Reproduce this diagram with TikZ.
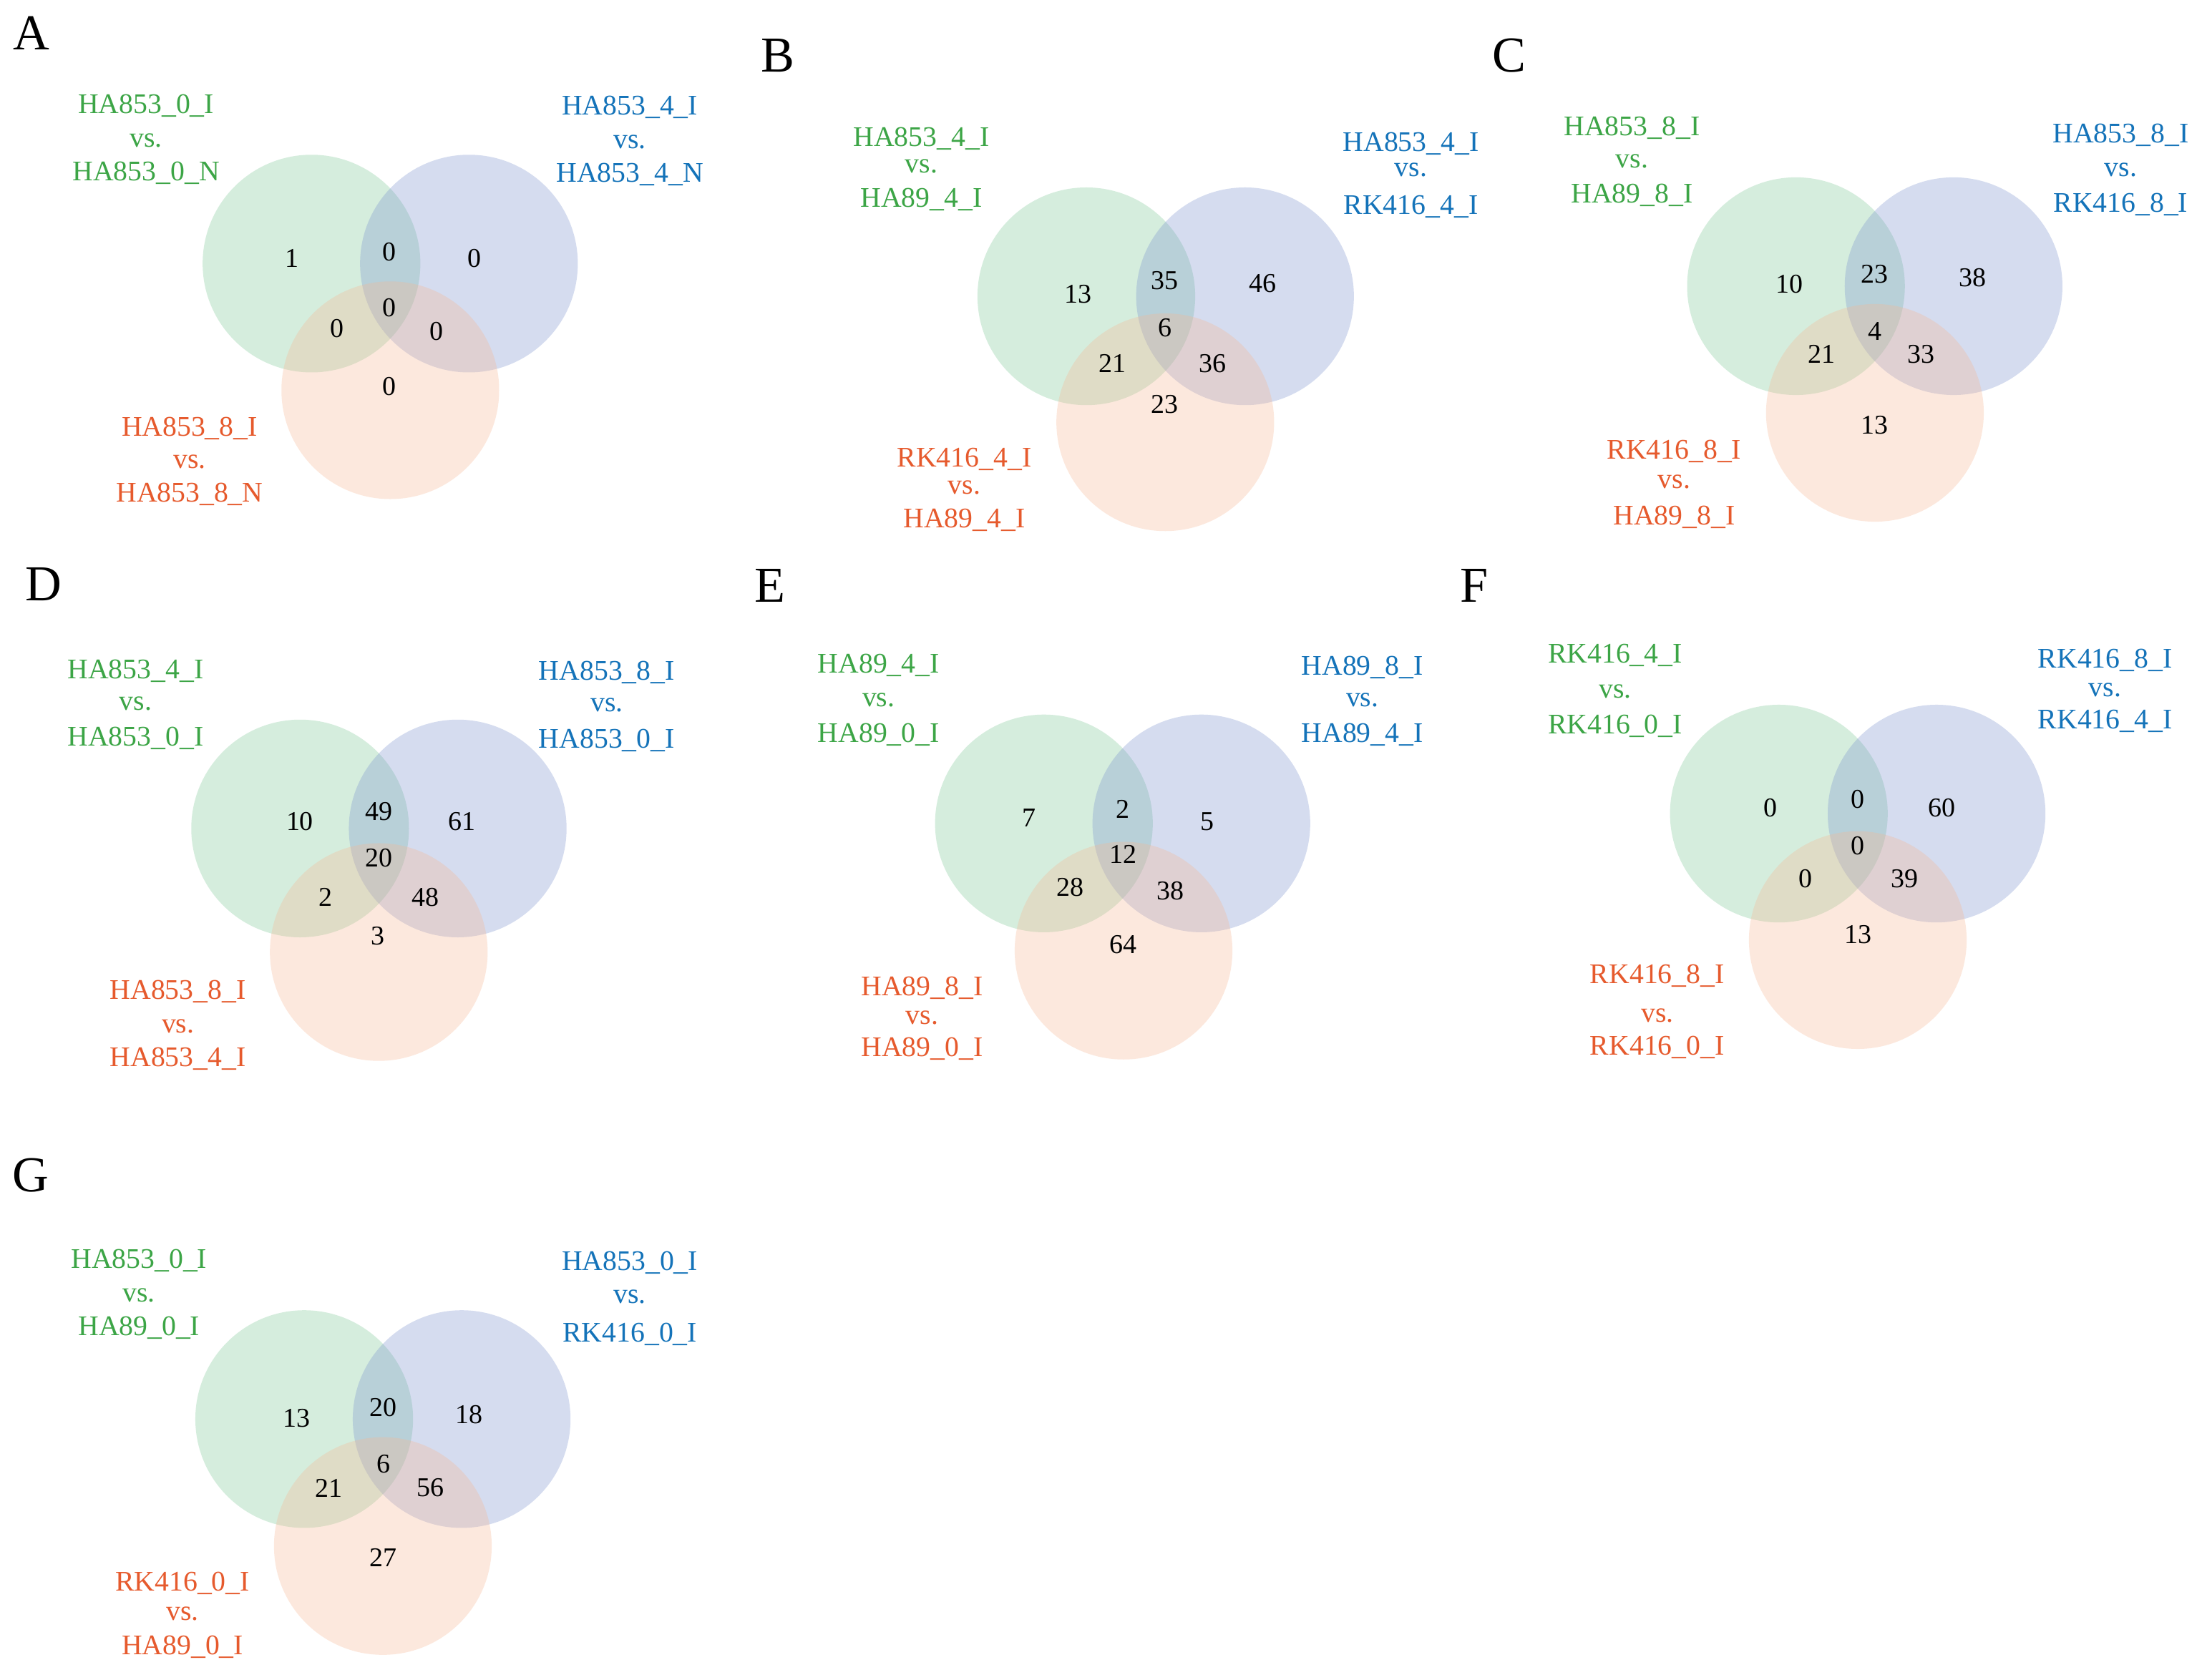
\documentclass[tikz,border=0pt]{standalone}
\usepackage{fontspec}
\setmainfont{Liberation Serif}
\definecolor{gfc}{RGB}{118,198,145}
\definecolor{bfc}{RGB}{118,142,205}
\definecolor{ofc}{RGB}{248,182,145}
\definecolor{gtx}{RGB}{60,165,70}
\definecolor{btx}{RGB}{20,115,185}
\definecolor{otx}{RGB}{230,90,45}
\newcommand\vlab[8]{%
  \node[nm,#2] (#1-1) at (#3,#4) {#7};
  \node[vsn,#2] (#1-2) at (#3,#5) {vs.};
  \node[nm,#2] (#1-3) at (#3,#6) {#8};
}
\newcommand\vset[7]{%
  \node[gc] (#1-g) at (#2,#3) {};
  \node[bc] (#1-b) at (#4,#5) {};
  \node[oc] (#1-o) at (#6,#7) {};
}
\begin{document}
\begin{tikzpicture}[x=0.019625cm,y=-0.019625cm,
  circ/.style={circle,minimum size=3.042cm,inner sep=0pt,fill opacity=0.3,draw=none},
  gc/.style={circ,fill=gfc},
  bc/.style={circ,fill=bfc},
  oc/.style={circ,fill=ofc},
  num/.style={inner sep=0pt,anchor=center,font=\fontsize{10.8pt}{12pt}\selectfont},
  nm/.style={inner sep=0pt,anchor=base,yshift=-0.131cm,font=\fontsize{11.3pt}{13pt}\selectfont},
  vsn/.style={inner sep=0pt,anchor=base,yshift=-0.09cm,font=\fontsize{11.3pt}{13pt}\selectfont},
  tg/.style={text=gtx},
  tb/.style={text=btx},
  to/.style={text=otx},
  letter/.style={inner sep=0pt,anchor=center,font=\fontsize{20pt}{22pt}\selectfont}]
\fill[white] (0,0) rectangle (1567.9,1196.4);
\useasboundingbox (0,0) rectangle (1567.9,1196.4);

% ---------------- A
\node[letter] (A-let) at (22.4,23.8) {A};
\vset{A}{221.8}{187.7}{333.9}{187.7}{277.9}{277.9}
\node[num] (A-n1) at (208,184) {1};
\node[num] (A-n2) at (277,179.5) {0};
\node[num] (A-n3) at (338,184) {0};
\node[num] (A-n4) at (277,219) {0};
\node[num] (A-n5) at (240,234) {0};
\node[num] (A-n6) at (311,236) {0};
\node[num] (A-n7) at (277,275) {0};
\vlab{A-lg}{tg}{104}{74}{100}{122}{HA853\_0\_I}{HA853\_0\_N}
\vlab{A-lb}{tb}{448.5}{75}{101}{123}{HA853\_4\_I}{HA853\_4\_N}
\vlab{A-lo}{to}{135}{304}{329}{351}{HA853\_8\_I}{HA853\_8\_N}

% ---------------- B
\node[letter] (B-let) at (554,39.5) {B};
\vset{B}{773.5}{211}{886.5}{211}{829.7}{300.7}
\node[num] (B-n1) at (767.5,209.5) {13};
\node[num] (B-n2) at (829.5,200) {35};
\node[num] (B-n3) at (899,202) {46};
\node[num] (B-n4) at (829.5,233.5) {6};
\node[num] (B-n5) at (792,259) {21};
\node[num] (B-n6) at (863.5,259) {36};
\node[num] (B-n7) at (829.5,288) {23};
\vlab{B-lg}{tg}{656}{97.6}{118.6}{140.8}{HA853\_4\_I}{HA89\_4\_I}
\vlab{B-lb}{tb}{1004.6}{101}{121}{145.7}{HA853\_4\_I}{RK416\_4\_I}
\vlab{B-lo}{to}{686.6}{326}{347}{369}{RK416\_4\_I}{HA89\_4\_I}

% ---------------- C
\node[letter] (C-let) at (1074.7,39.5) {C};
\vset{C}{1278.8}{203.8}{1391}{203.8}{1335}{294}
\node[num] (C-n1) at (1274,202.5) {10};
\node[num] (C-n2) at (1335,195) {23};
\node[num] (C-n3) at (1404.5,197.6) {38};
\node[num] (C-n4) at (1335,236) {4};
\node[num] (C-n5) at (1297,252) {21};
\node[num] (C-n6) at (1368,252.4) {33};
\node[num] (C-n7) at (1335,302.6) {13};
\vlab{C-lg}{tg}{1162}{90}{115}{138}{HA853\_8\_I}{HA89\_8\_I}
\vlab{C-lb}{tb}{1510}{95}{121}{144.5}{HA853\_8\_I}{RK416\_8\_I}
\vlab{C-lo}{to}{1192}{320}{343}{367}{RK416\_8\_I}{HA89\_8\_I}

% ---------------- D
\node[letter] (D-let) at (30.9,416) {D};
\vset{D}{213.7}{590}{325.9}{590}{269.7}{678}
\node[num] (D-n1) at (213.5,585) {10};
\node[num] (D-n2) at (269.7,577.8) {49};
\node[num] (D-n3) at (329,585) {61};
\node[num] (D-n4) at (269.7,611) {20};
\node[num] (D-n5) at (231.7,638.8) {2};
\node[num] (D-n6) at (303,638.8) {48};
\node[num] (D-n7) at (269,666.5) {3};
\vlab{D-lg}{tg}{96.5}{476.4}{501.2}{524.6}{HA853\_4\_I}{HA853\_0\_I}
\vlab{D-lb}{tb}{432}{477.7}{502.4}{525.9}{HA853\_8\_I}{HA853\_0\_I}
\vlab{D-lo}{to}{126.7}{705}{731}{753}{HA853\_8\_I}{HA853\_4\_I}

% ---------------- E
\node[letter] (E-let) at (548.2,417.2) {E};
\vset{E}{743.3}{586.4}{855.4}{586.4}{800}{677}
\node[num] (E-n1) at (732.8,582.7) {7};
\node[num] (E-n2) at (799.5,576.5) {2};
\node[num] (E-n3) at (859.6,585) {5};
\node[num] (E-n4) at (799.5,608.6) {12};
\node[num] (E-n5) at (762,632) {28};
\node[num] (E-n6) at (833.6,634.6) {38};
\node[num] (E-n7) at (799.5,672.9) {64};
\vlab{E-lg}{tg}{625.6}{472.8}{498.7}{522.2}{HA89\_4\_I}{HA89\_0\_I}
\vlab{E-lb}{tb}{970}{474}{498.7}{522.2}{HA89\_8\_I}{HA89\_4\_I}
\vlab{E-lo}{to}{656.5}{702.5}{724.7}{745.7}{HA89\_8\_I}{HA89\_0\_I}

% ---------------- F
\node[letter] (F-let) at (1049.7,417.2) {F};
\vset{F}{1266.6}{579.4}{1378.9}{579.4}{1322.8}{669.5}
\node[num] (F-n1) at (1260.7,575.3) {0};
\node[num] (F-n2) at (1323,569) {0};
\node[num] (F-n3) at (1382.5,575.3) {60};
\node[num] (F-n4) at (1323,602.5) {0};
\node[num] (F-n5) at (1285.5,626) {0};
\node[num] (F-n6) at (1356,626) {39};
\node[num] (F-n7) at (1323,665.5) {13};
\vlab{F-lg}{tg}{1150}{465.4}{492.5}{516}{RK416\_4\_I}{RK416\_0\_I}
\vlab{F-lb}{tb}{1498.9}{469}{491.3}{512.3}{RK416\_8\_I}{RK416\_4\_I}
\vlab{F-lo}{to}{1180}{693.9}{723.5}{744.5}{RK416\_8\_I}{RK416\_0\_I}

% ---------------- G
\node[letter] (G-let) at (22.1,837.2) {G};
\vset{G}{216.6}{1010.6}{328.7}{1010.6}{272.6}{1101}
\node[num] (G-n1) at (211.2,1009.8) {13};
\node[num] (G-n2) at (273,1002.5) {20};
\node[num] (G-n3) at (333.8,1007.4) {18};
\node[num] (G-n4) at (273,1042.6) {6};
\node[num] (G-n5) at (234,1059.6) {21};
\node[num] (G-n6) at (306.4,1059.6) {56};
\node[num] (G-n7) at (273,1109.5) {27};
\vlab{G-lg}{tg}{99}{896.7}{922.3}{944.2}{HA853\_0\_I}{HA89\_0\_I}
\vlab{G-lb}{tb}{448.5}{898}{923.5}{949}{HA853\_0\_I}{RK416\_0\_I}
\vlab{G-lo}{to}{130}{1126.5}{1149.5}{1171.5}{RK416\_0\_I}{HA89\_0\_I}
\end{tikzpicture}
\end{document}
